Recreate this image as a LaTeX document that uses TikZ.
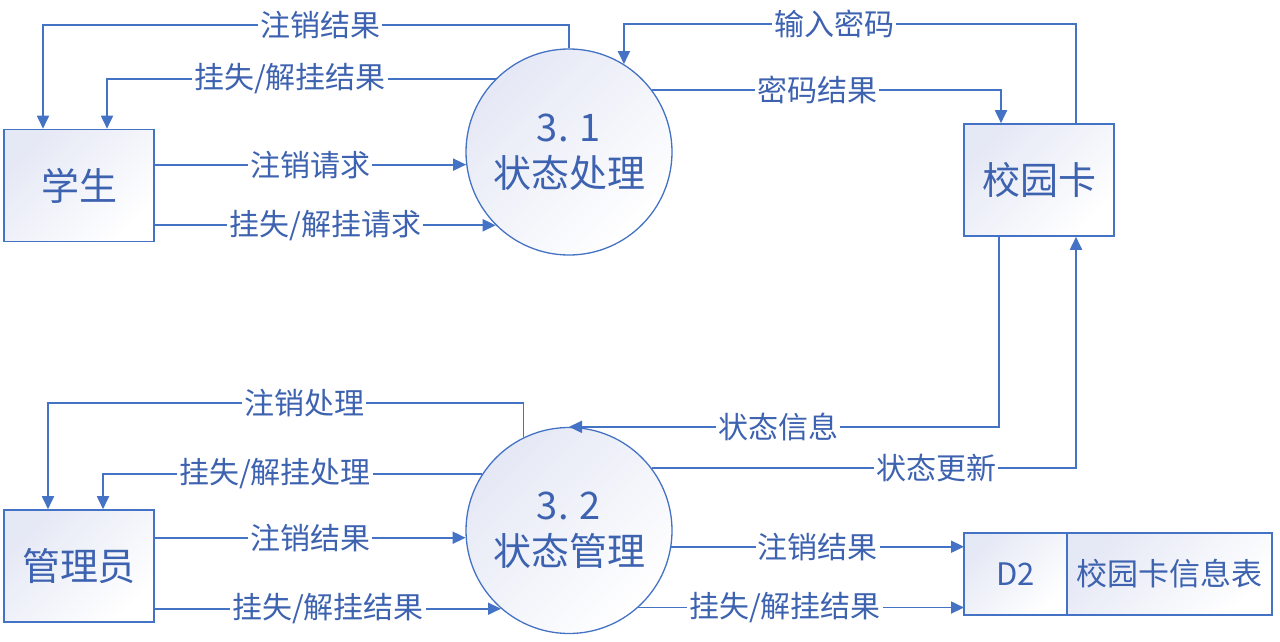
\documentclass[tikz,border=0pt]{standalone}
\usepackage{fontspec}
\setmainfont{Noto Sans CJK SC}
\usepackage{tikz}
\usetikzlibrary{arrows.meta,positioning}
\definecolor{cline}{HTML}{4472C4}
\definecolor{ctext}{HTML}{3D62B0}
\definecolor{cfill}{HTML}{E5E8F5}

\begin{document}
\begin{tikzpicture}[x=1pt,y=-1pt,
    entity/.style={draw=cline,line width=1.6pt,rectangle,top color=cfill,bottom color=white,
      shading angle=45,minimum width=150pt,minimum height=112pt,text=ctext,
      font=\fontsize{38}{46}\selectfont},
    proc/.style={draw=cline,line width=1.3pt,circle,top color=cfill,bottom color=white,
      shading angle=45,minimum size=206pt,inner sep=0pt,align=center,text=ctext,
      font=\fontsize{38}{46}\selectfont},
    store/.style={draw=cline,line width=1.6pt,rectangle,top color=cfill,bottom color=white,
      shading angle=45,minimum height=82pt,outer sep=0pt,text=ctext,
      font=\fontsize{31}{37}\selectfont},
    flow/.style={draw=cline,line width=1.8pt,-{Triangle[length=13pt,width=12pt]}},
    lbl/.style={fill=white,inner sep=2pt,text=ctext,font=\fontsize{30}{36}\selectfont}]
  \useasboundingbox (0,0) rectangle (1280,642);
  % external entities
  \node[entity] (stu) at (79,185.5) {学生};
  \node[entity] (card) at (1039,180) {校园卡};
  \node[entity] (adm) at (79,566) {管理员};
  % processes
  \node[proc] (p31) at (569,152) {3.\hspace{0.3em}1\\状态处理};
  \node[proc] (p32) at (569,530.5) {3.\hspace{0.3em}2\\状态管理};
  % data store
  \node[store,minimum width=103pt] (d2) at (1015.5,574) {D2};
  \node[store,minimum width=205pt,right=0pt of d2] (cardtab) {校园卡信息表};
  % student <-> 3.1
  \draw[flow] (p31.north) |- (320,25) node[lbl] {注销结果} -| ([xshift=-36pt]stu.north);
  \draw[flow] (p31.135) -- (p31.135 -| 290,0) node[lbl] {挂失/解挂结果}
    -| ([xshift=28pt]stu.north);
  \draw[flow] (stu.east |- p31.187) -- (p31.187) node[lbl,midway] {注销请求};
  \draw[flow] (stu.east |- p31.225) -- (p31.225) node[lbl,midway] {挂失/解挂请求};
  % card <-> 3.1
  \draw[flow] ([xshift=37pt]card.north) |- (834,24) node[lbl] {输入密码} -| (p31.58);
  \draw[flow] (p31.37) -- (p31.37 -| 817,0) node[lbl] {密码结果}
    -| ([xshift=-38pt]card.north);
  % card <-> 3.2
  \draw[flow] ([xshift=-40pt]card.south) |- (p32.north -| 778,0) node[lbl] {状态信息}
    -- (p32.north);
  \draw[flow] (p32.37) -- (p32.37 -| 936,0) node[lbl] {状态更新}
    -| ([xshift=37pt]card.south);
  % admin <-> 3.2
  \draw[flow] (p32.116) |- (304,403) node[lbl] {注销处理} -| ([xshift=-31pt]adm.north);
  \draw[flow] (p32.147) -- (p32.147 -| 275,0) node[lbl] {挂失/解挂处理}
    -| ([xshift=24pt]adm.north);
  \draw[flow] (adm.east |- p32.184) -- (p32.184) node[lbl,midway] {注销结果};
  \draw[flow] (adm.east |- p32.229) -- (p32.229) node[lbl,midway] {挂失/解挂结果};
  % 3.2 -> store
  \draw[flow] (p32.-9) -- (p32.-9 -| d2.west) node[lbl,midway] {注销结果};
  \draw[flow] (p32.-48.5) -- (p32.-48.5 -| d2.west) node[lbl,pos=0.45] {挂失/解挂结果};
\end{tikzpicture}
\end{document}
